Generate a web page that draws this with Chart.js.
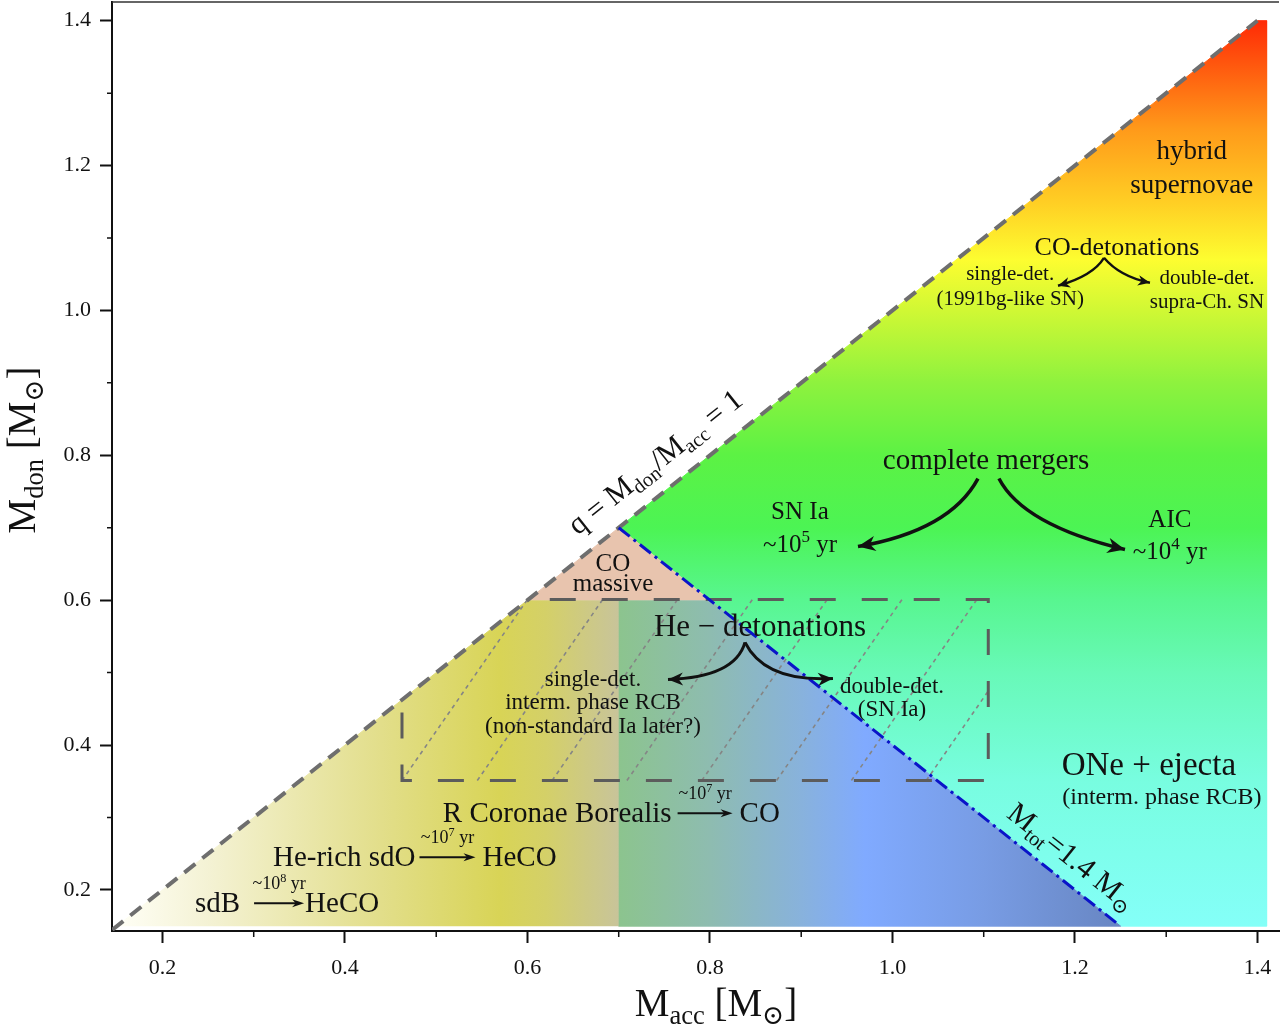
<!DOCTYPE html>
<html>
<head>
<meta charset="utf-8">
<script src="https://cdn.jsdelivr.net/npm/chart.js@4.4.1/dist/chart.umd.min.js"></script>
<style>
  html, body { margin: 0; padding: 0; background: #fff; }
  #wrap { width: 1280px; height: 1027px; position: relative; }
</style>
</head>
<body>
<div id="wrap"><canvas id="mergerChart"></canvas></div>
<script>
var FONT = '"Liberation Serif", "Times New Roman", "DejaVu Serif", serif';

// axis ranges and ticks (solar masses)
var xRange = [0.1447, 1.4236];
var yRange = [0.1433, 1.4258];
var majorTicks = [0.2, 0.4, 0.6, 0.8, 1.0, 1.2, 1.4];
var minorTicks = [0.3, 0.5, 0.7, 0.9, 1.1, 1.3];

// boundary lines
var qLine = [{x: 0.145, y: 0.145}, {x: 1.4, y: 1.4}];          // q = 1
var mtotLine = [{x: 0.7, y: 0.7}, {x: 1.247, y: 0.153}];       // Mtot = 1.4
var heBox = [{x: 0.4625, y: 0.445}, {x: 0.4625, y: 0.351}, {x: 1.105, y: 0.351},
             {x: 1.105, y: 0.601}, {x: 0.6, y: 0.601}];

// filled regions
var mergerRegion = [{x: 0.7, y: 0.7}, {x: 1.4, y: 1.4}, {x: 1.41, y: 1.4}, {x: 1.41, y: 0.15}, {x: 1.25, y: 0.15}];
var coMassive = [{x: 0.6, y: 0.6}, {x: 0.7, y: 0.7}, {x: 0.8, y: 0.6}];
var blueRegion = [{x: 0.7, y: 0.6}, {x: 0.8, y: 0.6}, {x: 1.25, y: 0.15}, {x: 0.7, y: 0.15}];
var yellowRegion = [{x: 0.15, y: 0.15}, {x: 0.6, y: 0.6}, {x: 0.7, y: 0.6}, {x: 0.7, y: 0.15}];

// hatching inside the He-detonation box
var hatchStarts = [0.4625, 0.545, 0.627, 0.709, 0.791, 0.873, 0.955, 1.037];

// gradient stops [position, colour]
var mergerStops = [[0.15, '#84fff8'], [0.35, '#78fde0'], [0.5, '#68f9b8'], [0.6, '#58f690'], [0.7, '#4cf454'],
                   [0.8, '#5cf244'], [0.9, '#8ef23e'], [1.0, '#d0f834'], [1.07, '#fdfd30'], [1.15, '#ffce24'],
                   [1.25, '#ff9a1a'], [1.4, '#ff2a06']];
var blueStops = [[0.7, '#8cc48e'], [0.8, '#8ebcb0'], [0.9, '#88b2dc'], [0.97, '#80aaff'], [1.1, '#789ce4'], [1.25, '#6886c2']];
var yellowStops = [[0.15, '#fffff6'], [0.25, '#f4f2d4'], [0.44, '#e2de8a'], [0.57, '#d8d456'], [0.62, '#d4d068'], [0.7, '#c8c49a']];

var labels = [
  {x: 1.328, y: 1.222, text: 'hybrid', size: 27},
  {x: 1.328, y: 1.175, text: 'supernovae', size: 27},
  {x: 1.246, y: 1.089, text: 'CO-detonations', size: 26},
  {x: 1.129, y: 1.051, text: 'single-det.', size: 21},
  {x: 1.129, y: 1.0175, text: '(1991bg-like SN)', size: 21},
  {x: 1.3447, y: 1.0466, text: 'double-det.', size: 21},
  {x: 1.3447, y: 1.0134, text: 'supra-Ch. SN', size: 21},
  {x: 1.1025, y: 0.794, text: 'complete mergers', size: 29},
  {x: 0.8986, y: 0.7237, text: 'SN Ia', size: 25},
  {x: 0.8986, y: 0.678, text: '~10^{5} yr', size: 25},
  {x: 1.304, y: 0.7127, text: 'AIC', size: 25},
  {x: 1.304, y: 0.6686, text: '~10^{4} yr', size: 25},
  {x: 0.6937, y: 0.652, text: 'CO', size: 25},
  {x: 0.6937, y: 0.6245, text: 'massive', size: 25},
  {x: 0.8548, y: 0.565, text: 'He \u2212 detonations', size: 31},
  {x: 0.6718, y: 0.492, text: 'single-det.', size: 23},
  {x: 0.6718, y: 0.4603, text: 'interm. phase RCB', size: 23},
  {x: 0.6718, y: 0.4272, text: '(non-standard Ia later?)', size: 23},
  {x: 0.9995, y: 0.4823, text: 'double-det.', size: 23},
  {x: 0.9995, y: 0.4506, text: '(SN Ia)', size: 23},
  {x: 1.281, y: 0.3734, text: 'ONe + ejecta', size: 33},
  {x: 1.2953, y: 0.3292, text: '(interm. phase RCB)', size: 24}
];

var lineLabels = [
  {x: 0.7397, y: 0.7913, text: 'q = M_{don}/M_{acc} = 1', size: 30, along: qLine},
  {x: 1.1967, y: 0.2465, text: 'M_{tot}=1.4 M_{\u2299}', size: 30, along: mtotLine}
];

var reactions = [
  {x: 0.2356, y: 0.183, from: 'sdB', time: '~10^{8} yr', to: 'HeCO', gap: 14, len: 50, gap2: 1},
  {x: 0.3211, y: 0.2465, from: 'He-rich sdO', time: '~10^{7} yr', to: 'HeCO', gap: 4, len: 56, gap2: 7},
  {x: 0.5073, y: 0.3072, from: 'R Coronae Borealis', time: '~10^{7} yr', to: 'CO', gap: 6, len: 55, gap2: 7}
];

var curvedArrows = [
  {p0: [1.2318, 1.0727], c: [1.2198, 1.0479], p1: [1.1814, 1.0341], w: 2.4},
  {p0: [1.2318, 1.0727], c: [1.2493, 1.0465], p1: [1.2822, 1.0382], w: 2.4},
  {p0: [1.0937, 0.7679], c: [1.063, 0.6961], p1: [0.9622, 0.6741], w: 3.5},
  {p0: [1.1167, 0.7679], c: [1.143, 0.7037], p1: [1.2548, 0.6699], w: 3.5},
  {p0: [0.8384, 0.5417], c: [0.8274, 0.4934], p1: [0.754, 0.4906], w: 3},
  {p0: [0.8384, 0.5417], c: [0.8603, 0.4865], p1: [0.9348, 0.492], w: 3}
];

function gradientFill(stops, axis) {
  return function(context) {
    var chart = context.chart;
    if (!chart.chartArea) return null;
    var first = stops[0][0], last = stops[stops.length - 1][0];
    var g;
    if (axis === 'x') {
      var s = chart.scales.x;
      g = chart.ctx.createLinearGradient(s.getPixelForValue(first), 0, s.getPixelForValue(last), 0);
    } else {
      var t = chart.scales.y;
      g = chart.ctx.createLinearGradient(0, t.getPixelForValue(first), 0, t.getPixelForValue(last));
    }
    stops.forEach(function(st) { g.addColorStop((st[0] - first) / (last - first), st[1]); });
    return g;
  };
}

function hatchData() {
  var slope = (0.601 - 0.351) / (0.6 - 0.4625);
  var pts = [];
  hatchStarts.forEach(function(x0) {
    var x1 = x0 + (0.601 - 0.351) / slope, y1 = 0.601;
    if (x1 > 1.105) { x1 = 1.105; y1 = 0.351 + (1.105 - x0) * slope; }
    pts.push({x: x0, y: 0.351}, {x: x1, y: y1}, {x: x1, y: null});
  });
  return pts;
}

function region(pts, fillColor, order) {
  return {data: pts, fill: 'shape', backgroundColor: fillColor, borderColor: fillColor,
          borderWidth: 1, pointRadius: 0, tension: 0, order: order};
}

function parseRich(str) {
  var runs = [], re = /([_^])\{([^}]*)\}/g, last = 0, m;
  while ((m = re.exec(str))) {
    if (m.index > last) runs.push({t: str.slice(last, m.index), k: ''});
    runs.push({t: m[2], k: m[1]});
    last = re.lastIndex;
  }
  if (last < str.length) runs.push({t: str.slice(last), k: ''});
  return runs;
}

function drawRich(ctx, str, x, y, size, align) {
  var runs = parseRich(str), w = 0;
  runs.forEach(function(r) {
    r.size = r.k ? size * 0.68 : size;
    ctx.font = r.size + 'px ' + FONT;
    r.w = ctx.measureText(r.t).width;
    w += r.w;
  });
  var cx = align === 'left' ? x : (align === 'right' ? x - w : x - w / 2);
  var base = y + size * 0.33;
  ctx.textAlign = 'left';
  ctx.textBaseline = 'alphabetic';
  runs.forEach(function(r) {
    ctx.font = r.size + 'px ' + FONT;
    var dy = r.k === '^' ? -size * 0.4 : (r.k === '_' ? size * 0.2 : 0);
    ctx.fillText(r.t, cx, base + dy);
    cx += r.w;
  });
  return w;
}

function arrowHead(ctx, x, y, dx, dy, len, half) {
  var d = Math.sqrt(dx * dx + dy * dy), ux = dx / d, uy = dy / d;
  ctx.beginPath();
  ctx.moveTo(x, y);
  ctx.lineTo(x - ux * len - uy * half, y - uy * len + ux * half);
  ctx.lineTo(x - ux * len * 0.7, y - uy * len * 0.7);
  ctx.lineTo(x - ux * len + uy * half, y - uy * len - ux * half);
  ctx.closePath();
  ctx.fill();
}

var annotationPlugin = {
  id: 'annotations',
  afterDatasetsDraw: function(chart) {
    var ctx = chart.ctx, a = chart.chartArea;
    var sx = function(v) { return chart.scales.x.getPixelForValue(v); };
    var sy = function(v) { return chart.scales.y.getPixelForValue(v); };
    ctx.save();
    ctx.fillStyle = '#111';
    ctx.strokeStyle = '#111';

    // minor ticks
    ctx.lineWidth = 1.5;
    ctx.beginPath();
    minorTicks.forEach(function(v) {
      ctx.moveTo(sx(v), a.bottom); ctx.lineTo(sx(v), a.bottom + 6);
      ctx.moveTo(a.left - 5, sy(v)); ctx.lineTo(a.left, sy(v));
    });
    ctx.stroke();

    // top frame
    ctx.strokeStyle = '#333';
    ctx.beginPath();
    ctx.moveTo(a.left, a.top); ctx.lineTo(a.right, a.top);
    ctx.stroke();

    // axis titles
    drawRich(ctx, 'M_{acc} [M_{\u2299}]', 716, 1003, 39, 'center');
    ctx.save();
    ctx.translate(22, 450);
    ctx.rotate(-Math.PI / 2);
    drawRich(ctx, 'M_{don} [M_{\u2299}]', 0, 0, 39, 'center');
    ctx.restore();

    labels.forEach(function(l) { drawRich(ctx, l.text, sx(l.x), sy(l.y), l.size, 'center'); });

    lineLabels.forEach(function(l) {
      var p0 = l.along[0], p1 = l.along[1];
      var ang = Math.atan2(sy(p1.y) - sy(p0.y), sx(p1.x) - sx(p0.x));
      if (ang > Math.PI / 2) ang -= Math.PI;
      if (ang < -Math.PI / 2) ang += Math.PI;
      ctx.save();
      ctx.translate(sx(l.x), sy(l.y));
      ctx.rotate(ang);
      drawRich(ctx, l.text, 0, 0, l.size, 'center');
      ctx.restore();
    });

    reactions.forEach(function(r) {
      var px = sx(r.x), py = sy(r.y);
      var w1 = drawRich(ctx, r.from, px, py, 29, 'left');
      var a0 = px + w1 + r.gap, a1 = a0 + r.len;
      ctx.lineWidth = 2;
      ctx.strokeStyle = '#111';
      ctx.beginPath();
      ctx.moveTo(a0, py + 1); ctx.lineTo(a1 - 6, py + 1);
      ctx.stroke();
      arrowHead(ctx, a1, py + 1, 1, 0, 12, 4);
      drawRich(ctx, r.time, (a0 + a1) / 2, py - 19, 18, 'center');
      drawRich(ctx, r.to, a1 + r.gap2, py, 29, 'left');
    });

    curvedArrows.forEach(function(c) {
      var x0 = sx(c.p0[0]), y0 = sy(c.p0[1]);
      var cx = sx(c.c[0]), cy = sy(c.c[1]);
      var x1 = sx(c.p1[0]), y1 = sy(c.p1[1]);
      ctx.lineWidth = c.w;
      ctx.beginPath();
      ctx.moveTo(x0, y0);
      ctx.quadraticCurveTo(cx, cy, x1, y1);
      ctx.stroke();
      arrowHead(ctx, x1, y1, x1 - cx, y1 - cy, c.w * 5, c.w * 2.2);
    });
    ctx.restore();
  }
};

new Chart(document.getElementById('mergerChart'), {
  type: 'line',
  plugins: [annotationPlugin],
  data: {
    datasets: [
      {data: mtotLine, borderColor: '#0a14c8', borderWidth: 3, borderDash: [14, 5, 3, 5], pointRadius: 0, fill: false, order: 0},
      {data: qLine, borderColor: '#6e6e6e', borderWidth: 4, borderDash: [14, 9], pointRadius: 0, fill: false, order: 1},
      {data: heBox, borderColor: '#5c5c5c', borderWidth: 3, borderDash: [26, 26], pointRadius: 0, fill: false, order: 2},
      {data: hatchData(), borderColor: '#858585', borderWidth: 1.6, borderDash: [4, 4], pointRadius: 0, fill: false, spanGaps: false, order: 3},
      region(coMassive, '#e8c4ae', 10),
      region(blueRegion, gradientFill(blueStops, 'x'), 11),
      region(yellowRegion, gradientFill(yellowStops, 'x'), 12),
      region(mergerRegion, gradientFill(mergerStops, 'y'), 13)
    ]
  },
  options: {
    responsive: true,
    maintainAspectRatio: false,
    devicePixelRatio: 1,
    animation: false,
    events: [],
    layout: {padding: {top: 2, right: 1, left: 0, bottom: 0}},
    plugins: {legend: {display: false}, tooltip: {enabled: false}, title: {display: false}},
    scales: {
      x: {
        type: 'linear', min: xRange[0], max: xRange[1],
        afterBuildTicks: function(s) { s.ticks = majorTicks.map(function(v) { return {value: v}; }); },
        afterFit: function(s) { s.height = 96; s.paddingLeft = 0; s.paddingRight = 0; },
        grid: {drawOnChartArea: false, drawTicks: true, tickLength: 12, tickColor: '#111', tickWidth: 2},
        border: {display: true, color: '#111', width: 2},
        ticks: {font: {family: FONT, size: 22}, color: '#111', padding: 12, maxRotation: 0,
                callback: function(v) { return v.toFixed(1); }}
      },
      y: {
        type: 'linear', min: yRange[0], max: yRange[1],
        afterBuildTicks: function(s) { s.ticks = majorTicks.map(function(v) { return {value: v}; }); },
        afterFit: function(s) { s.width = 112; s.paddingTop = 0; s.paddingBottom = 0; },
        grid: {drawOnChartArea: false, drawTicks: true, tickLength: 12, tickColor: '#111', tickWidth: 2},
        border: {display: true, color: '#111', width: 2},
        ticks: {font: {family: FONT, size: 22}, color: '#111', padding: 9,
                callback: function(v) { return v.toFixed(1); }}
      }
    }
  }
});
</script>
</body>
</html>
